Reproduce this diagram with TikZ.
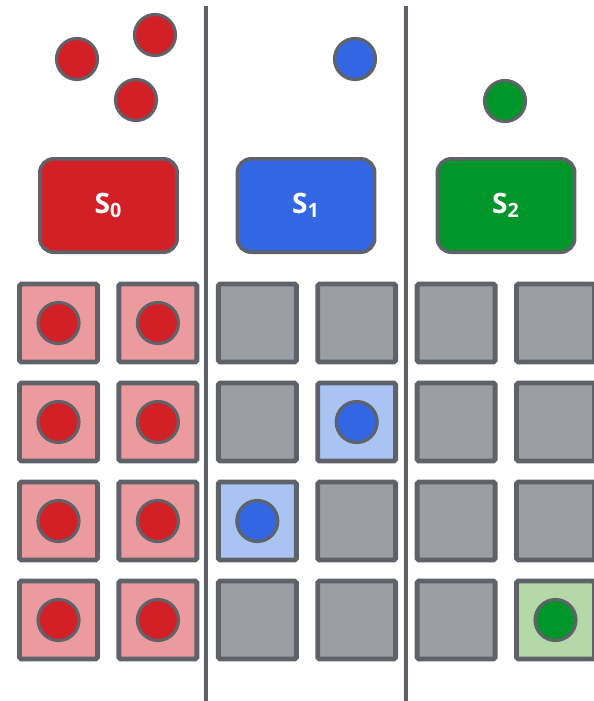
\documentclass[tikz,border=0pt]{standalone}
\usepackage{fontspec}
\setmainfont{Open Sans}
\usetikzlibrary{positioning}
\definecolor{SlotEdge}{HTML}{5F6268}
\definecolor{SlotGray}{HTML}{9D9EA3}
\definecolor{SlotRed}{HTML}{D31F26}
\definecolor{SlotRedLight}{HTML}{EB9A9D}
\definecolor{SlotBlue}{HTML}{3266E3}
\definecolor{SlotBlueLight}{HTML}{A9C4F2}
\definecolor{SlotGreen}{HTML}{00962A}
\definecolor{SlotGreenLight}{HTML}{B5D8A9}
\tikzset{
  slotcell/.style={
    draw=SlotEdge,
    fill=SlotGray,
    line width=2.8pt,
    rounded corners=1pt,
    minimum size=1.56cm,
    inner sep=0pt
  },
  redcell/.style={slotcell,fill=SlotRedLight},
  bluecell/.style={slotcell,fill=SlotBlueLight},
  greencell/.style={slotcell,fill=SlotGreenLight},
  slotdot/.style={
    circle,
    draw=SlotEdge,
    line width=1.8pt,
    minimum size=0.82cm,
    inner sep=0pt
  },
  reddot/.style={slotdot,fill=SlotRed},
  bluedot/.style={slotdot,fill=SlotBlue},
  greendot/.style={slotdot,fill=SlotGreen},
  setbox/.style={
    draw=SlotEdge,
    line width=2pt,
    rounded corners=0.28cm,
    minimum width=2.75cm,
    minimum height=1.87cm,
    text=white,
    font=\fontsize{16}{18}\selectfont\bfseries
  },
  divider/.style={draw=SlotEdge,line width=2.8pt}
}

\begin{document}
\begin{tikzpicture}[x=0.02cm,y=-0.02cm,node distance=0.33cm]
  \useasboundingbox (0,0) rectangle (594,701);
  % column separators
  \draw[divider] (206,6) -- (206,701);
  \draw[divider] (406,6) -- (406,701);
  % incoming items
  \node[reddot] (in0a) at (77,59) {};
  \node[reddot] (in0b) at (155,35) {};
  \node[reddot] (in0c) at (136,100) {};
  \node[bluedot] (in1) at (355,59) {};
  \node[greendot] (in2) at (505,101) {};
  % sets
  \node[setbox,fill=SlotRed] (s0) at (108.5,205.5) {S\textsubscript{0}};
  \node[setbox,fill=SlotBlue] (s1) at (306,205.5) {S\textsubscript{1}};
  \node[setbox,fill=SlotGreen] (s2) at (506,205.5) {S\textsubscript{2}};
  % slots, row 1
  \node[redcell] (r1c1) at (58.5,323) {};
  \node[redcell,right=of r1c1] (r1c2) {};
  \node[slotcell,right=of r1c2] (r1c3) {};
  \node[slotcell,right=of r1c3] (r1c4) {};
  \node[slotcell,right=of r1c4] (r1c5) {};
  \node[slotcell,right=of r1c5] (r1c6) {};
  % row 2
  \node[redcell] (r2c1) at (58.5,422) {};
  \node[redcell,right=of r2c1] (r2c2) {};
  \node[slotcell,right=of r2c2] (r2c3) {};
  \node[bluecell,right=of r2c3] (r2c4) {};
  \node[slotcell,right=of r2c4] (r2c5) {};
  \node[slotcell,right=of r2c5] (r2c6) {};
  % row 3
  \node[redcell] (r3c1) at (58.5,521) {};
  \node[redcell,right=of r3c1] (r3c2) {};
  \node[bluecell,right=of r3c2] (r3c3) {};
  \node[slotcell,right=of r3c3] (r3c4) {};
  \node[slotcell,right=of r3c4] (r3c5) {};
  \node[slotcell,right=of r3c5] (r3c6) {};
  % row 4
  \node[redcell] (r4c1) at (58.5,620) {};
  \node[redcell,right=of r4c1] (r4c2) {};
  \node[slotcell,right=of r4c2] (r4c3) {};
  \node[slotcell,right=of r4c3] (r4c4) {};
  \node[slotcell,right=of r4c4] (r4c5) {};
  \node[greencell,right=of r4c5] (r4c6) {};
  % stored items
  \node[reddot] (d11) at (r1c1) {};
  \node[reddot] (d12) at (r1c2) {};
  \node[reddot] (d21) at (r2c1) {};
  \node[reddot] (d22) at (r2c2) {};
  \node[reddot] (d31) at (r3c1) {};
  \node[reddot] (d32) at (r3c2) {};
  \node[reddot] (d41) at (r4c1) {};
  \node[reddot] (d42) at (r4c2) {};
  \node[bluedot] (d24) at (r2c4) {};
  \node[bluedot] (d33) at (r3c3) {};
  \node[greendot] (d46) at (r4c6) {};
\end{tikzpicture}
\end{document}
